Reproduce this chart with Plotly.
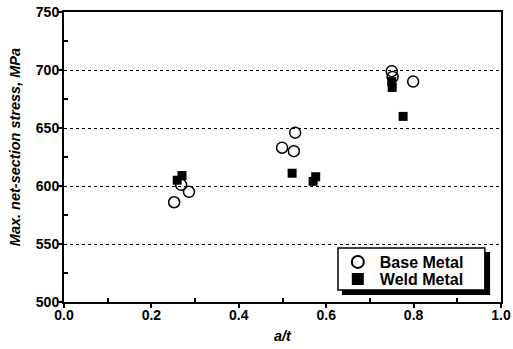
import plotly.graph_objects as go

base_x = [0.252, 0.268, 0.286, 0.499, 0.526, 0.529, 0.750, 0.752, 0.799]
base_y = [586, 601, 595, 633, 630, 646, 699, 694, 690]
weld_x = [0.259, 0.270, 0.522, 0.570, 0.576, 0.750, 0.751, 0.776]
weld_y = [605, 609, 611, 604, 608, 690, 685, 660]

x_ticks = [0, 0.2, 0.4, 0.6, 0.8, 1.0]
x_ticklabels = ["0.0", "0.2", "0.4", "0.6", "0.8", "1.0"]
y_ticks = [500, 550, 600, 650, 700, 750]
y_ticklabels = ["500", "550", "600", "650", "700", "750"]
x_title = "a/t"
y_title = "Max. net-section stress, MPa"

FONT = "Liberation Sans"
BOLD = dict(family=FONT, size=14, color="black", weight="bold")
LEG_FONT = dict(family=FONT, size=16, color="black", weight="bold")

fig = go.Figure()
fig.add_trace(go.Scatter(x=base_x, y=base_y, mode="markers", name="Base Metal", legend="legend",
                         marker=dict(symbol="circle-open", size=11, color="black",
                                     line=dict(width=1.5, color="black"))))
fig.add_trace(go.Scatter(x=weld_x, y=weld_y, mode="markers", name="Weld Metal", legend="legend2",
                         marker=dict(symbol="square", size=9, color="black")))

# legend shadow and box
fig.add_shape(type="rect", xref="paper", yref="paper", x0=0.636, x1=0.975, y0=0.024, y1=0.172,
              fillcolor="black", line=dict(width=0), layer="above")
fig.add_shape(type="rect", xref="paper", yref="paper", x0=0.627, x1=0.963, y0=0.041, y1=0.186,
              fillcolor="white", line=dict(width=1.5, color="black"), layer="above")

fig.add_annotation(text="<i>" + y_title + "</i>", xref="paper", yref="paper", x=-0.112, y=0.534,
                   xanchor="center", yanchor="middle", textangle=-90, showarrow=False,
                   font=dict(family=FONT, size=14.5, color="black", weight="bold"))
fig.add_annotation(text="<i>" + x_title + "</i>", xref="paper", yref="paper", x=0.5, y=-0.117,
                   xanchor="center", yanchor="middle", showarrow=False,
                   font=dict(family=FONT, size=14.5, color="black", weight="bold"))

leg_common = dict(xanchor="left", yanchor="middle", bgcolor="rgba(0,0,0,0)", borderwidth=0,
                  font=LEG_FONT, itemsizing="constant", itemwidth=34)

fig.update_layout(
    width=513, height=349,
    margin=dict(l=64, r=12, t=12, b=47, autoexpand=False),
    paper_bgcolor="white", plot_bgcolor="white",
    font=dict(family=FONT, size=13, color="black"),
    showlegend=True,
    legend=dict(x=0.622, y=0.138, **leg_common),
    legend2=dict(x=0.622, y=0.079, **leg_common),
    xaxis=dict(range=[0, 1], tickvals=x_ticks, ticktext=x_ticklabels, tickfont=BOLD,
               ticks="outside", ticklen=4, tickwidth=1.5, tickcolor="black", automargin=False,
               ticklabelstandoff=-5, ticklabeloverflow="allow",
               minor=dict(tickvals=[0.1, 0.3, 0.5, 0.7, 0.9], ticks="inside", ticklen=4, tickcolor="black", tickwidth=1.5),
               showline=True, linecolor="black", linewidth=2, mirror=True,
               showgrid=False, zeroline=False),
    yaxis=dict(range=[500, 750], tickvals=y_ticks, ticktext=y_ticklabels, tickfont=BOLD,
               ticks="outside", ticklen=4, tickwidth=1.5, tickcolor="black", automargin=False,
               ticklabelstandoff=-4, ticklabeloverflow="allow",
               minor=dict(tickvals=[525, 575, 625, 675, 725], ticks="inside", ticklen=4, tickcolor="black", tickwidth=1.5, showgrid=False),
               showline=True, linecolor="black", linewidth=2, mirror=True,
               showgrid=True, gridcolor="black", griddash="dot", gridwidth=1,
               zeroline=False),
)

fig.write_html("out.html", config={"displayModeBar": False},
               post_script="document.body.style.margin='0px';document.body.style.overflow='hidden';")
